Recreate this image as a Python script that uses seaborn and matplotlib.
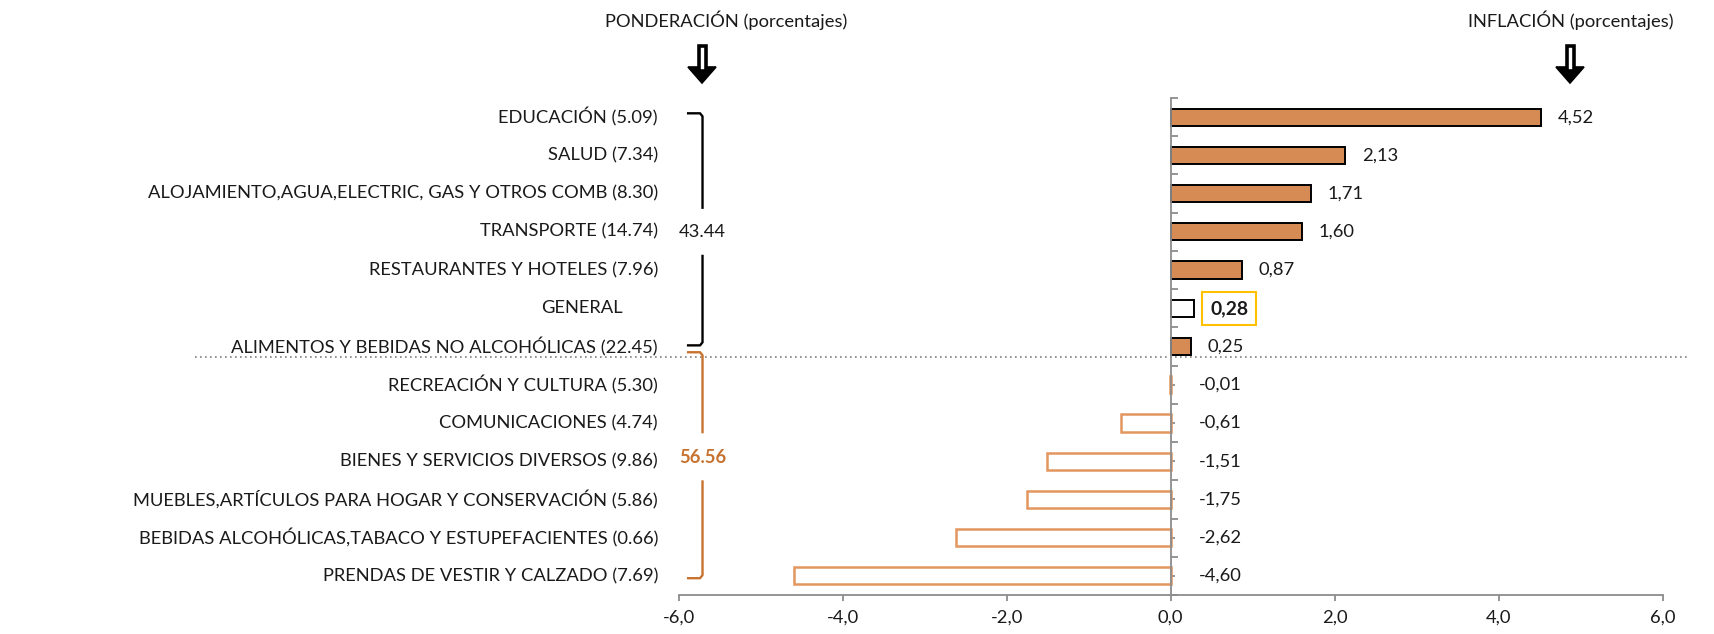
import numpy as np
import pandas as pd
import matplotlib
matplotlib.use("Agg")
import matplotlib.pyplot as plt
import matplotlib.transforms as mtransforms
from matplotlib.patches import Polygon
import seaborn as sns

# Data
categories = [
    "EDUCACIÓN", "SALUD", "ALOJAMIENTO,AGUA,ELECTRIC, GAS Y OTROS COMB",
    "TRANSPORTE", "RESTAURANTES Y HOTELES", "GENERAL",
    "ALIMENTOS Y BEBIDAS NO ALCOHÓLICAS", "RECREACIÓN Y CULTURA",
    "COMUNICACIONES", "BIENES Y SERVICIOS DIVERSOS",
    "MUEBLES,ARTÍCULOS PARA HOGAR Y CONSERVACIÓN",
    "BEBIDAS ALCOHÓLICAS,TABACO Y ESTUPEFACIENTES",
    "PRENDAS DE VESTIR Y CALZADO",
]
weights = [5.09, 7.34, 8.30, 14.74, 7.96, None, 22.45, 5.30, 4.74, 9.86, 5.86, 0.66, 7.69]
inflation = [4.52, 2.13, 1.71, 1.60, 0.87, 0.28, 0.25, -0.01, -0.61, -1.51, -1.75, -2.62, -4.60]
x_ticks = [-6, -4, -2, 0, 2, 4, 6]
group_up = "43.44"
group_down = "56.56"

ORANGE = "#D68B54"
ORANGE_EDGE = "#E3965E"
BRACKET_ORANGE = "#C8722F"
GRAY = "#8C8C8C"
TEXT = "#1A1A1A"
FS = 13.2


def fmt(v, nd=2):
    return f"{v:.{nd}f}".replace(".", ",")


def bracket(ax, x0, x1, y0, y1, gap, color):
    # vertical bracket with short hooks to the left and a gap in the middle
    r = 0.08
    ax.plot([x1, x0 - 0.03, x0, x0], [y0, y0, y0 + r, gap[0]], color=color,
            lw=1.7, solid_joinstyle="round", solid_capstyle="butt")
    ax.plot([x0, x0, x0 - 0.03, x1], [gap[1], y1 - r, y1, y1], color=color,
            lw=1.7, solid_joinstyle="round", solid_capstyle="butt")


def main():
    sns.set_theme(style="white")
    plt.rcParams["font.family"] = ["Lato", "DejaVu Sans"]

    fig = plt.figure(figsize=(17.14, 6.34), dpi=100)
    ax = fig.add_axes([0.396, 0.0615, 0.574, 0.7839])

    df = pd.DataFrame({"cat": categories, "val": inflation})
    sns.barplot(data=df, x="val", y="cat", orient="h", width=0.45,
                color=ORANGE, saturation=1, ax=ax)

    # style each bar
    for p, v, cat in zip(ax.patches, inflation, categories):
        if cat == "GENERAL":
            p.set_facecolor("white")
            p.set_edgecolor("black")
            p.set_linewidth(1.4)
        elif v >= 0:
            p.set_facecolor(ORANGE)
            p.set_edgecolor("black")
            p.set_linewidth(1.4)
        else:
            p.set_facecolor("white")
            p.set_edgecolor(ORANGE_EDGE)
            p.set_linewidth(1.8)

    ax.set_xlim(-6, 6)
    ax.set_ylim(12.5, -0.5)
    ax.set_xlabel("")
    ax.set_ylabel("")

    for s in ["top", "right"]:
        ax.spines[s].set_visible(False)
    ax.spines["left"].set_position(("data", 0))
    ax.spines["left"].set_color(GRAY)
    ax.spines["left"].set_linewidth(1.3)
    ax.spines["bottom"].set_color(GRAY)
    ax.spines["bottom"].set_linewidth(1.3)

    ax.set_yticks(np.arange(-0.5, 13, 1))
    ax.set_yticks(np.arange(0, 13, 1), minor=True)
    ax.tick_params(axis="y", which="major", direction="in", length=5,
                   width=1.3, color=GRAY, labelleft=False, left=True)
    ax.tick_params(axis="y", which="minor", direction="in", length=3,
                   width=1.3, color=GRAY, labelleft=False, left=True)

    ax.set_xticks(x_ticks)
    ax.set_xticklabels([fmt(t, 1) for t in x_ticks], fontsize=FS, color=TEXT)
    ax.tick_params(axis="x", direction="out", length=4.5, width=1.3,
                   color=GRAY, pad=6, bottom=True)

    # category labels on the left
    trans = mtransforms.blended_transform_factory(ax.transAxes, ax.transData)
    for i, (cat, w) in enumerate(zip(categories, weights)):
        if w is None:
            ax.text(-0.057, i, cat, transform=trans, ha="right", va="center",
                    fontsize=FS, color=TEXT)
        else:
            ax.text(-0.021, i, f"{cat} ({w:.2f})", transform=trans,
                    ha="right", va="center", fontsize=FS, color=TEXT)

    # value labels
    for i, (cat, v) in enumerate(zip(categories, inflation)):
        if cat == "GENERAL":
            ax.text(v + 0.2, i, fmt(v), ha="left", va="center", fontsize=FS + 0.7,
                    fontweight="bold", color=TEXT,
                    bbox=dict(boxstyle="square,pad=0.42", facecolor="white",
                              edgecolor="#FFC000", linewidth=1.5))
        elif v >= 0:
            ax.text(v + 0.2, i, fmt(v), ha="left", va="center", fontsize=FS,
                    color=TEXT)
        else:
            ax.text(0.35, i, fmt(v), ha="left", va="center", fontsize=FS,
                    color=TEXT)

    # dotted separator
    ax.plot([-0.492, 1.026], [6.28, 6.28], transform=trans, clip_on=False,
            color="#7F7F7F", lw=1.2, ls=(0, (1, 2)))

    # brackets
    bx, hx = -5.71, -5.9
    bracket(ax, bx, hx, -0.1, 5.97, (2.4, 3.6), "black")
    ax.text(bx, 3, group_up, ha="center", va="center", fontsize=FS, color=TEXT)
    bracket(ax, bx, hx, 6.15, 12.06, (8.27, 9.5), BRACKET_ORANGE)
    ax.text(bx, 8.9, group_down, ha="center", va="center", fontsize=FS,
            fontweight="bold", color=BRACKET_ORANGE)

    # headings
    fig.text(726 / 1714, 1 - 20 / 634, "PONDERACIÓN (porcentajes)",
             ha="center", va="center", fontsize=FS, color=TEXT)
    fig.text(1571 / 1714, 1 - 20 / 634, "INFLACIÓN (porcentajes)",
             ha="center", va="center", fontsize=FS, color=TEXT)

    # down arrows: hollow shaft, solid head
    for cx in (702, 1570):
        top, neck, tip = 46, 67, 83
        head = [(cx - 14, neck), (cx + 14, neck), (cx, tip)]
        shaft = [(cx - 3.5, top), (cx + 3.5, top), (cx + 3.5, neck + 4),
                 (cx - 3.5, neck + 4)]
        head = [(x / 1714, 1 - y / 634) for x, y in head]
        shaft = [(x / 1714, 1 - y / 634) for x, y in shaft]
        fig.patches.append(Polygon(head, closed=True, transform=fig.transFigure,
                                   facecolor="black", edgecolor="black",
                                   linewidth=1.2))
        fig.patches.append(Polygon(shaft, closed=True, transform=fig.transFigure,
                                   facecolor="white", edgecolor="black",
                                   linewidth=2.6, joinstyle="miter"))

    fig.savefig("out.png", dpi=100, facecolor="white")


if __name__ == "__main__":
    main()
